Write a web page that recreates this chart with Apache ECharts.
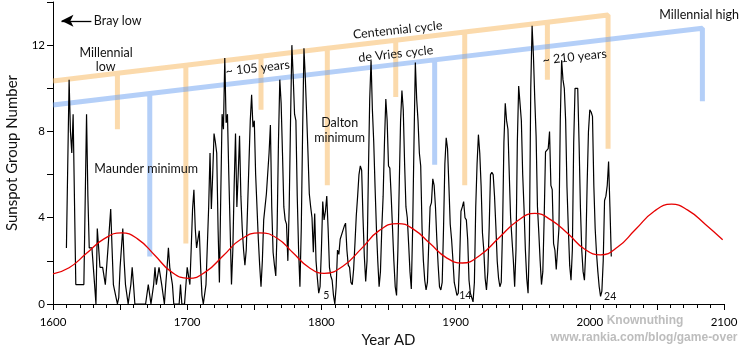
<!DOCTYPE html>
<html>
<head>
<meta charset="utf-8">
<script src="https://cdn.jsdelivr.net/npm/echarts@6/dist/echarts.min.js"></script>
<style>
  html, body { margin: 0; padding: 0; background: #fff; }
  #chart { width: 740px; height: 348px; }
</style>
</head>
<body>
<div id="chart"></div>
<script>
// Annual sunspot group number, one value per year starting at firstYear
const firstYear = 1610;
const groupNumber1600s = [
  2.6, 6.5, 10.4, 8.0, 7.0, 8.8, 4.8, 0.9, 0.9, 0.9,          // 1610
  0.9, 0.9, 0.9, 0.9, 0.9, 8.8, 5.0, 2.6, 2.6, 2.6,           // 1620
  2.6, 0.9, 0, 3.5, 2.6, 1.7, 1.7, 1.7, 1.7, 0.9,             // 1630
  0.9, 2.6, 3.5, 4.4, 2.6, 0.9, 0.6, 0.3, 0, 0.3,             // 1640
  1.7, 2.6, 3.5, 2.0, 0.9, 0.9, 0, 0, 0.9, 1.7,               // 1650
  0.9, 0, 0, 0, 0, 0, 0, 0, 0, 0,                             // 1660
  0, 0.9, 0.9, 0, 0, 0.9, 1.7, 0.9, 0.9, 1.7,                 // 1670
  1.7, 0.9, 0.9, 0, 0.9, 1.7, 2.6, 1.7, 1.7, 0.9,             // 1680
  0, 0, 0, 0, 0, 0.9, 0, 0, 0, 0                              // 1690
];
const groupNumber1700s = [
  1.7, 1.7, 0.9, 2.6, 4.4, 5.3, 3.5, 2.6, 2.6, 3.4,
  1.7, 0.4, 0, 0, 0.9, 2.7, 4.5, 7.0, 4.4, 6.0,
  7.9, 7.5, 7.0, 3.5, 1.0, 5.0, 8.8, 8.1, 11.4, 8.4,
  8.8, 6.0, 3.5, 0.9, 2.5, 5.5, 7.9, 4.5, 6.0, 7.8,
  5.0, 3.5, 2.5, 1.8, 2.5, 4.5, 6.5, 8.5, 9.7, 8.2,
  8.5, 6.0, 4.5, 3.0, 1.8, 0.8, 2.0, 3.9, 4.5, 5.1,
  5.1, 7.0, 8.3, 4.5, 2.4, 1.8, 1.3, 3.5, 7.5, 10.4,
  9.3, 7.0, 4.5, 3.9, 3.7, 2.0, 4.5, 8.5, 12.0, 10.5,
  8.8, 8.5, 5.0, 2.5, 0.8, 3.5, 8.0, 11.85, 10.5, 8.8,
  7.0, 5.1, 4.5, 4.0, 2.4, 4.2, 2.0, 1.2, 0.5, 0.8
];
const groupNumber1800s = [
  2.5, 4.75, 3.9, 4.3, 5.0, 3.5, 1.7, 1.3, 1.1, 0.4,
  0, 0.8, 2.5, 2.3, 3.0, 3.0, 3.4, 3.6, 3.75, 2.5,
  1.8, 1.7, 1.0, 0.9, 1.6, 2.8, 4.1, 5.0, 6.0, 6.4,
  6.2, 4.0, 2.2, 1.05, 2.0, 6.0, 9.5, 11.3, 9.0, 7.5,
  5.4, 3.5, 2.0, 0.8, 1.5, 3.5, 5.0, 7.5, 9.5, 8.5,
  6.4, 6.3, 5.0, 3.5, 2.0, 0.8, 0.4, 2.5, 5.5, 8.5,
  9.9, 9.0, 6.5, 4.5, 4.0, 2.8, 1.5, 0.7, 3.5, 7.5,
  11.2, 9.5, 8.5, 7.0, 6.4, 3.5, 2.0, 1.1, 0.65, 1.0,
  2.8, 4.5, 4.7, 5.8, 5.5, 4.5, 3.0, 1.8, 0.8, 0.65,
  1.0, 3.5, 6.5, 7.7, 7.2, 5.5, 3.7, 3.0, 2.05, 1.0
];
const groupNumber1900s = [
  0.7, 0.4, 0.5, 2.0, 4.3, 4.5, 4.75, 4.0, 3.9, 3.0,
  1.1, 0.5, 0.3, 0.1, 1.0, 4.5, 6.5, 7.85, 7.0, 5.5,
  3.3, 2.5, 1.2, 0.65, 1.5, 3.5, 6.0, 6.1, 6.0, 5.0,
  3.6, 2.0, 1.2, 0.8, 1.0, 3.5, 7.5, 9.3, 8.5, 8.1,
  6.0, 4.0, 3.0, 2.05, 0.8, 2.5, 7.5, 10.1, 9.3, 8.5,
  6.0, 4.4, 2.5, 1.2, 0.5, 3.0, 10.0, 12.9, 11.5, 9.5,
  7.75, 4.5, 3.3, 2.0, 0.9, 1.5, 4.0, 7.05, 7.1, 7.2,
  8.0, 5.5, 5.3, 2.8, 2.5, 1.6, 1.6, 3.5, 8.5, 11.3,
  10.4, 10.0, 8.5, 5.4, 3.5, 1.8, 1.1, 2.5, 7.5, 10.0,
  10.0, 10.0, 7.5, 4.5, 2.5, 1.5, 1.1, 2.5, 5.5, 8.0
];
const groupNumber2000s = [
  9.0, 8.9, 8.7, 5.5, 3.5, 2.35, 1.5, 0.8, 0.35, 0.6,
  2.0, 4.8, 5.0, 5.5, 6.6, 4.5, 2.2
];

// Long-period fitted curve (red)
const fitYears  = [1600, 1612, 1625, 1638, 1651, 1663, 1676, 1688, 1701, 1714, 1727, 1740, 1754,
                   1767, 1779, 1791, 1802, 1816, 1830, 1843, 1857, 1869, 1881, 1893, 1905, 1918,
                   1932, 1946, 1959, 1971, 1984, 1996, 2008, 2021, 2034, 2048, 2061, 2073, 2086, 2099];
const fitValues = [1.40, 1.68, 2.35, 3.02, 3.30, 3.02, 2.25, 1.50, 1.19, 1.50, 2.25, 3.00, 3.30,
                   3.05, 2.36, 1.68, 1.42, 1.75, 2.58, 3.40, 3.73, 3.45, 2.80, 2.15, 1.90, 2.25,
                   3.05, 3.85, 4.20, 3.90, 3.24, 2.55, 2.28, 2.65, 3.45, 4.30, 4.63, 4.35, 3.70, 2.98];

// Centennial cycle comb: sloped ridge with drops [year, lower end]
const centennialRidge = [[1600, 10.34], [2013.6, 13.4]];
const centennialDrops = [[1648, 8.1], [1699, 2.8], [1755, 9.0], [1804.4, 5.5],
                         [1855.4, 9.6], [1906.8, 5.5], [1968.4, 10.4], [2013.6, 7.2]];
// de Vries cycle comb
const deVriesRidge = [[1600, 9.23], [2083.9, 12.78]];
const deVriesDrops = [[1672.1, 2.2], [1884.4, 6.45], [2083.9, 9.4]];

const xTicks = { min: 1600, max: 2100, step: 50, labelStep: 100 };
const yTicks = { min: 0, max: 14, step: 2, labelStep: 4 };

const FONT = 'Lato, "Open Sans", sans-serif';

const groupNumber = [].concat(groupNumber1600s, groupNumber1700s, groupNumber1800s,
                              groupNumber1900s, groupNumber2000s);
const gnData = groupNumber.map((v, i) => [firstYear + i, v]);
const fitData = fitYears.map((y, i) => [y, fitValues[i]]);

// one continuous path per comb so the translucent stroke is painted once
function combPath(ridge, drops) {
  const [a, b] = ridge;
  const top = x => a[1] + (b[1] - a[1]) * (x - a[0]) / (b[0] - a[0]);
  const pts = [a.slice()];
  drops.forEach(([x, low], i) => {
    const t = top(x);
    pts.push([x, t], [x, low]);
    if (i < drops.length - 1 || x < b[0]) pts.push([x, t]);
  });
  if (drops[drops.length - 1][0] < b[0]) pts.push(b.slice());
  return pts;
}

const chart = echarts.init(document.getElementById('chart'), null, { renderer: 'canvas' });

const option = {
  animation: false,
  backgroundColor: '#fff',
  grid: { left: 53, right: 16, top: 2, bottom: 44, outerBoundsMode: 'none' },
  xAxis: {
    type: 'value', min: xTicks.min, max: xTicks.max, interval: xTicks.step,
    name: 'Year AD', nameLocation: 'middle', nameGap: 25,
    nameTextStyle: { fontSize: 15, color: '#111', fontFamily: FONT },
    axisLine: { onZero: false, lineStyle: { color: '#000', width: 1 } },
    axisTick: { show: true, length: 6, lineStyle: { color: '#000', width: 1 } },
    minorTick: { show: true, splitNumber: 5, length: 4, lineStyle: { color: '#000', width: 1 } },
    splitLine: { show: false },
    axisLabel: {
      fontSize: 11.5, color: '#000', fontFamily: FONT, margin: 12,
      formatter: v => (v % xTicks.labelStep === 0 ? String(v) : '')
    }
  },
  yAxis: {
    type: 'value', min: yTicks.min, max: yTicks.max, interval: yTicks.step,
    name: 'Sunspot Group Number', nameLocation: 'middle', nameGap: 33,
    nameTextStyle: { fontSize: 15, color: '#111', fontFamily: FONT },
    axisLine: { show: true, lineStyle: { color: '#000', width: 1 } },
    axisTick: { show: true, length: 6, lineStyle: { color: '#000', width: 1 } },
    splitLine: { show: false },
    axisLabel: {
      fontSize: 11.5, color: '#000', fontFamily: FONT, margin: 8,
      formatter: v => (v % yTicks.labelStep === 0 ? String(v) : '')
    }
  },
  series: [
    {
      name: 'Centennial cycle', type: 'line', z: 1, silent: true,
      data: combPath(centennialRidge, centennialDrops),
      symbol: 'none', smooth: false,
      lineStyle: { color: '#f8b860', width: 5, opacity: 0.52, join: 'bevel', cap: 'butt' }
    },
    {
      name: 'de Vries cycle', type: 'line', z: 2, silent: true,
      data: combPath(deVriesRidge, deVriesDrops),
      symbol: 'none', smooth: false,
      lineStyle: { color: '#6aa0f2', width: 5, opacity: 0.5, join: 'bevel', cap: 'butt' }
    },
    {
      name: 'Group number', type: 'line', z: 3, silent: true,
      data: gnData, symbol: 'none', smooth: false,
      lineStyle: { color: '#000', width: 1.2 },
      markLine: {
        silent: true, symbol: ['none', 'arrow'], symbolSize: [9, 12],
        label: { show: false },
        lineStyle: { color: '#000', width: 1.3, type: 'solid' },
        data: [[{ coord: [1628.6, 13.13] }, { coord: [1606.3, 13.13] }]]
      }
    },
    {
      name: 'Fit', type: 'line', z: 4, silent: true,
      data: fitData, symbol: 'none', smooth: 0.5,
      lineStyle: { color: '#e60000', width: 1.3 }
    }
  ]
};
chart.setOption(option);

// text notes anchored in data coordinates
const notes = [
  { text: 'Bray low', at: [1648.2, 13.14] },
  { text: 'Millennial', at: [1639.6, 11.63] },
  { text: 'low', at: [1639.3, 10.98] },
  { text: 'Maunder minimum', at: [1669.4, 6.26] },
  { text: '~ 105 years', at: [1752.5, 10.94], rot: 6 },
  { text: 'Centennial cycle', at: [1856.8, 12.70], rot: 6 },
  { text: 'de Vries cycle', at: [1855.4, 11.59], rot: 6 },
  { text: 'Dalton', at: [1813.6, 8.39] },
  { text: 'minimum', at: [1813.6, 7.70] },
  { text: '~ 210 years', at: [1988.7, 11.45], rot: 6 },
  { text: 'Millennial high', at: [2081.5, 13.39] },
  { text: '5', at: [1803.6, 0.41], size: 10.5 },
  { text: '14', at: [1907.2, 0.41], size: 10.5 },
  { text: '24', at: [2015.2, 0.36], size: 10.5 }
];

const graphics = notes.map(n => {
  const p = chart.convertToPixel({ xAxisIndex: 0, yAxisIndex: 0 }, n.at);
  return {
    type: 'text', x: p[0], y: p[1], z: 10, silent: true,
    rotation: (n.rot || 0) * Math.PI / 180,
    style: {
      text: n.text, align: 'center', verticalAlign: 'middle',
      fill: '#111', font: (n.size || 12.5) + 'px ' + FONT
    }
  };
});

// credit lines under the axis
graphics.push(
  { type: 'text', x: 645, y: 321, z: 10, silent: true,
    style: { text: 'Knownuthing', align: 'center', verticalAlign: 'middle',
             fill: '#bdbdbd', font: 'bold 12px "Liberation Sans", Arial, sans-serif' } },
  { type: 'text', x: 644, y: 338, z: 10, silent: true,
    style: { text: 'www.rankia.com/blog/game-over', align: 'center', verticalAlign: 'middle',
             fill: '#bdbdbd', font: 'bold 12px "Liberation Sans", Arial, sans-serif' } }
);

chart.setOption({ graphic: graphics });
</script>
</body>
</html>
